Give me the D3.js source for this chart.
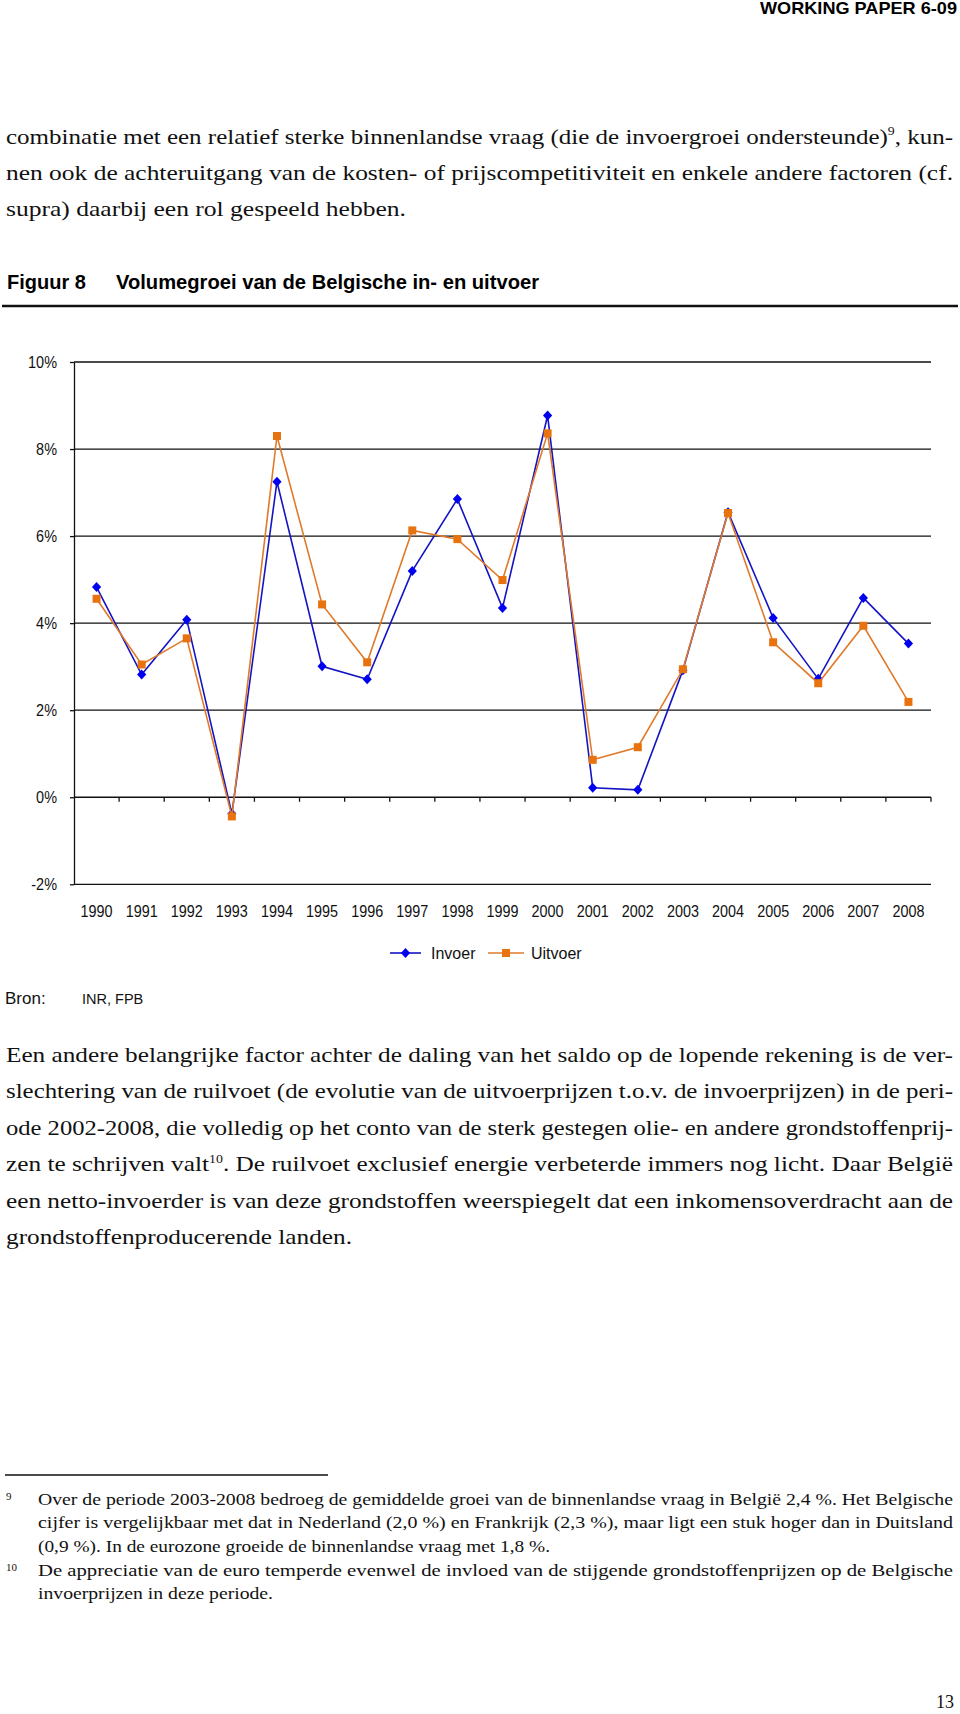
<!DOCTYPE html>
<html><head><meta charset="utf-8">
<script src="https://cdn.jsdelivr.net/npm/d3@7"></script>
<style>html,body{margin:0;padding:0;background:#fff}svg{display:block}</style>
</head><body>
<svg id="page" width="960" height="1714"></svg>
<script>
// ---------- DATA ----------
const years = [1990,1991,1992,1993,1994,1995,1996,1997,1998,1999,2000,2001,2002,2003,2004,2005,2006,2007,2008];
const invoer  = [4.83,2.82,4.08,-0.38,7.25,3.01,2.71,5.20,6.85,4.35,8.77,0.22,0.17,2.92,6.55,4.12,2.72,4.58,3.53];
const uitvoer = [4.56,3.05,3.65,-0.44,8.30,4.43,3.10,6.13,5.93,4.99,8.36,0.86,1.15,2.94,6.53,3.56,2.62,3.94,2.19];
const yTicks = [-2,0,2,4,6,8,10];
const seriesNames = ["Invoer","Uitvoer"];
const headerText = "WORKING PAPER 6-09";
const figLabel = "Figuur 8";
const figTitle = "Volumegroei van de Belgische in- en uitvoer";
const sourceLabel = "Bron:";
const sourceText = "INR, FPB";
const para1 = [
  [["combinatie met een relatief sterke binnenlandse vraag (die de invoergroei ondersteunde)"],["9","sup"],[", kun-"]],
  [["nen ook de achteruitgang van de kosten- of prijscompetitiviteit en enkele andere factoren (cf."]],
  [["supra) daarbij een rol gespeeld hebben."]]
];
const para2 = [
  [["Een andere belangrijke factor achter de daling van het saldo op de lopende rekening is de ver-"]],
  [["slechtering van de ruilvoet (de evolutie van de uitvoerprijzen t.o.v. de invoerprijzen) in de peri-"]],
  [["ode 2002-2008, die volledig op het conto van de sterk gestegen olie- en andere grondstoffenprij-"]],
  [["zen te schrijven valt"],["10","sup"],[". De ruilvoet exclusief energie verbeterde immers nog licht. Daar België"]],
  [["een netto-invoerder is van deze grondstoffen weerspiegelt dat een inkomensoverdracht aan de"]],
  [["grondstoffenproducerende landen."]]
];
const fn9 = [
  "Over de periode 2003-2008 bedroeg de gemiddelde groei van de binnenlandse vraag in België 2,4 %. Het Belgische",
  "cijfer is vergelijkbaar met dat in Nederland (2,0 %) en Frankrijk (2,3 %), maar ligt een stuk hoger dan in Duitsland",
  "(0,9 %). In de eurozone groeide de binnenlandse vraag met 1,8 %."
];
const fn10 = [
  "De appreciatie van de euro temperde evenwel de invloed van de stijgende grondstoffenprijzen op de Belgische",
  "invoerprijzen in deze periode."
];
const pageNumber = "13";

// ---------- DRAW ----------
const svg = d3.select("#page");
const SANS = "'Liberation Sans', Arial, sans-serif";
const SERIF = "'Liberation Serif', 'Times New Roman', serif";

// header
svg.append("text").attr("x",957).attr("y",14).attr("text-anchor","end")
  .attr("font-family",SANS).attr("font-weight","bold").attr("font-size",17)
  .attr("textLength",197).attr("lengthAdjust","spacingAndGlyphs").text(headerText);

// body text helper
function writeLines(lines, x0, x1, y0, dy, size, lastEnd){
  lines.forEach((segs,i)=>{
    const t = svg.append("text").attr("x",x0).attr("y",y0+i*dy)
      .attr("font-family",SERIF).attr("font-size",size).attr("fill","#111");
    let prevSup = false;
    segs.forEach(s=>{
      const ts = t.append("tspan").text(s[0]);
      if(s[1]==="sup"){ ts.attr("font-size",size*0.55).attr("dy",-size*0.38); prevSup = true; }
      else if(prevSup){ ts.attr("dy", size*0.38); prevSup = false; }
    });
    const last = i===lines.length-1;
    const target = last ? lastEnd - x0 : x1 - x0;
    t.attr("textLength",target).attr("lengthAdjust","spacingAndGlyphs");
  });
}
writeLines(para1, 6, 953, 143.5, 36.2, 21.5, 406);

// figure title
svg.append("text").attr("x",7).attr("y",289).attr("font-family",SANS).attr("font-weight","bold")
  .attr("font-size",20).text(figLabel);
svg.append("text").attr("x",116).attr("y",289).attr("font-family",SANS).attr("font-weight","bold")
  .attr("font-size",20).attr("textLength",423).attr("lengthAdjust","spacingAndGlyphs").text(figTitle);
svg.append("line").attr("x1",2).attr("x2",958).attr("y1",306).attr("y2",306)
  .attr("stroke","#111").attr("stroke-width",2.5);

// chart
const x = d3.scaleBand().domain(years).range([74,931]).padding(0);
const y = d3.scaleLinear().domain([-2,10]).range([884.3,362]);
const g = svg.append("g");

// gridlines
g.selectAll("line.grid").data(yTicks).join("line").attr("class","grid")
  .attr("x1",74).attr("x2",931).attr("y1",d=>y(d)).attr("y2",d=>y(d))
  .attr("stroke","#111").attr("stroke-width",1.3);

// left axis
const yAxis = g.append("g").attr("transform","translate(74,0)")
  .call(d3.axisLeft(y).tickValues(yTicks).tickSize(4).tickSizeOuter(0).tickPadding(13).tickFormat(d=>d+"%"));
yAxis.select(".domain").attr("stroke","#111").attr("stroke-width",1.3);
yAxis.selectAll(".tick line").attr("stroke","#111").attr("stroke-width",1.3);
yAxis.selectAll(".tick text").attr("font-family",SANS).attr("font-size",17).attr("fill","#111")
  .each(function(){ const w=this.getComputedTextLength(); d3.select(this).attr("textLength",w*0.85).attr("lengthAdjust","spacingAndGlyphs"); });

// x tick marks on 0% line at category boundaries
const bounds = years.map(d=>x(d)).concat([x.range()[1]]);
g.selectAll("line.xt").data(bounds.slice(1)).join("line").attr("class","xt")
  .attr("x1",d=>d).attr("x2",d=>d).attr("y1",y(0)).attr("y2",y(0)+4.5)
  .attr("stroke","#111").attr("stroke-width",1.3);

// x labels below -2% line
const xAxis = g.append("g").attr("transform",`translate(0,${y(-2)})`)
  .call(d3.axisBottom(x).tickSize(0).tickPadding(0));
xAxis.select(".domain").remove();
xAxis.selectAll(".tick text").attr("font-family",SANS).attr("font-size",17).attr("fill","#111")
  .attr("y",32.5).attr("dy",0).attr("textLength",32).attr("lengthAdjust","spacingAndGlyphs");

// series
const cx = d=>x(d)+x.bandwidth()/2;
const colors = {Invoer:{line:"#1414C4",mark:"#0000F0"}, Uitvoer:{line:"#E07A2A",mark:"#E8720E"}};
const lineGen = (vals)=>d3.line().x((d,i)=>cx(years[i])).y(d=>y(d))(vals);
// Invoer
g.append("path").attr("d",lineGen(invoer)).attr("fill","none").attr("stroke",colors.Invoer.line).attr("stroke-width",1.6);
const diamond = "M0,-5L4.6,0L0,5L-4.6,0Z";
g.selectAll("path.dia").data(invoer).join("path").attr("class","dia")
  .attr("transform",(d,i)=>`translate(${cx(years[i])},${y(d)})`).attr("d",diamond).attr("fill",colors.Invoer.mark);
// Uitvoer
g.append("path").attr("d",lineGen(uitvoer)).attr("fill","none").attr("stroke",colors.Uitvoer.line).attr("stroke-width",1.6);
g.selectAll("rect.sq").data(uitvoer).join("rect").attr("class","sq")
  .attr("x",(d,i)=>cx(years[i])-4).attr("y",d=>y(d)-4).attr("width",8).attr("height",8).attr("fill",colors.Uitvoer.mark);

// legend
const leg = svg.append("g");
const legItems = [{n:seriesNames[0],x0:390,x1:421,tx:431},{n:seriesNames[1],x0:488,x1:524,tx:531}];
legItems.forEach(it=>{
  const c = colors[it.n];
  leg.append("line").attr("x1",it.x0).attr("x2",it.x1).attr("y1",953).attr("y2",953).attr("stroke",c.line).attr("stroke-width",1.6);
  const mx=(it.x0+it.x1)/2;
  if(it.n==="Invoer") leg.append("path").attr("d",diamond).attr("transform",`translate(${mx},953)`).attr("fill",c.mark);
  else leg.append("rect").attr("x",mx-4).attr("y",949).attr("width",8).attr("height",8).attr("fill",c.mark);
  leg.append("text").attr("x",it.tx).attr("y",959).attr("font-family",SANS).attr("font-size",16).attr("fill","#111").text(it.n);
});

// source
svg.append("text").attr("x",5).attr("y",1004).attr("font-family",SANS).attr("font-size",17).attr("fill","#111").text(sourceLabel);
svg.append("text").attr("x",82).attr("y",1004).attr("font-family",SANS).attr("font-size",14.5).attr("fill","#111").text(sourceText);

// paragraph 2
writeLines(para2, 6, 953, 1062, 36.4, 21.5, 352);

// footnotes
svg.append("line").attr("x1",5).attr("x2",328).attr("y1",1475).attr("y2",1475).attr("stroke","#111").attr("stroke-width",1.3);
function writeFoot(lines, num, y0, lastEnd){
  svg.append("text").attr("x",6).attr("y",y0-5).attr("font-family",SERIF).attr("font-size",11).attr("fill","#111").text(num);
  lines.forEach((s,i)=>{
    const last = i===lines.length-1;
    svg.append("text").attr("x",38).attr("y",y0+i*23.3).attr("font-family",SERIF).attr("font-size",17).attr("fill","#111")
      .attr("textLength", (last?lastEnd:953)-38).attr("lengthAdjust","spacingAndGlyphs").text(s);
  });
}
writeFoot(fn9, "9", 1505, 550);
writeFoot(fn10, "10", 1576, 273);

// page number
svg.append("text").attr("x",954).attr("y",1708).attr("text-anchor","end").attr("font-family",SERIF).attr("font-size",18).attr("fill","#111").text(pageNumber);
</script>
</body></html>
